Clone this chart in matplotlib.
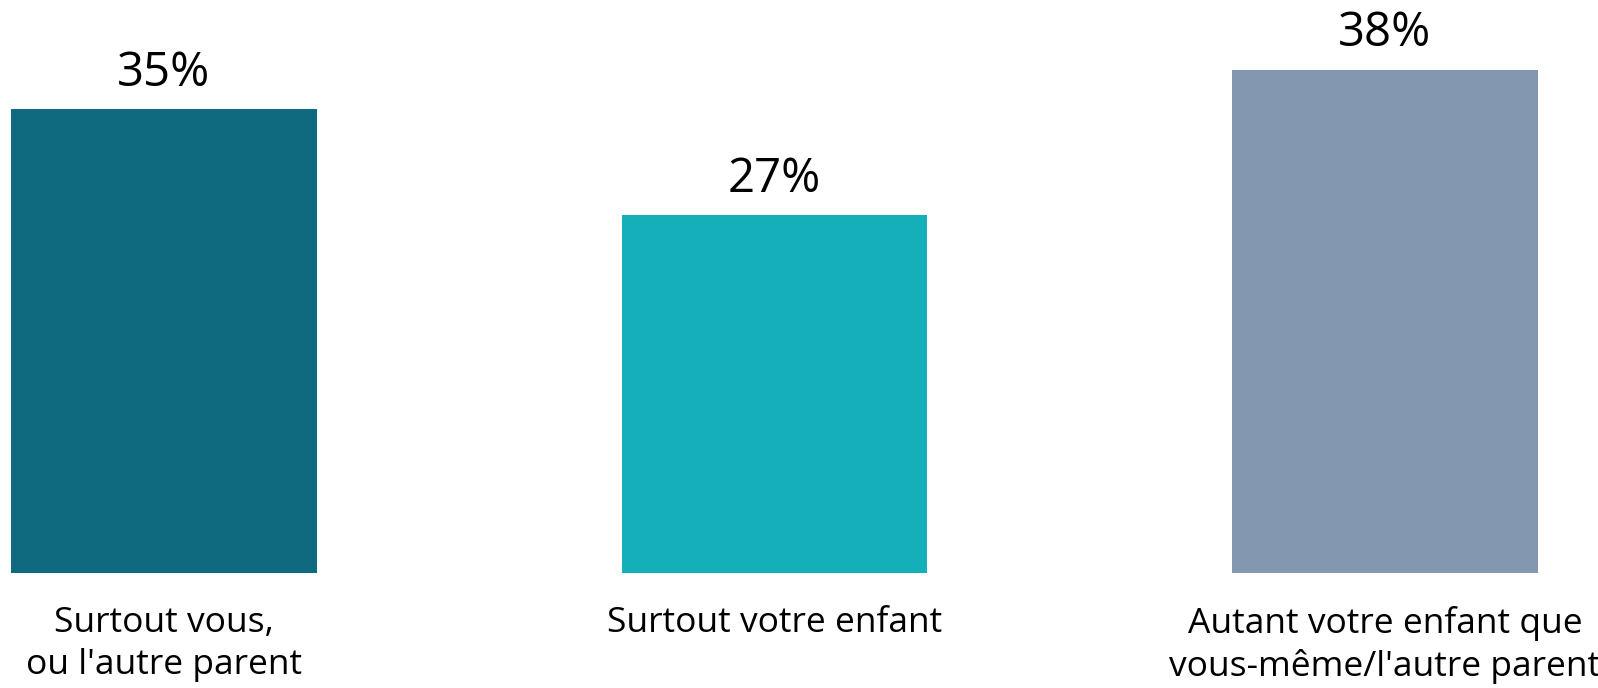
import matplotlib
matplotlib.use("Agg")
import matplotlib.pyplot as plt

plt.rcParams['font.family'] = ['Open Sans', 'DejaVu Sans']

categories = ["Surtout vous,\nou l'autre parent",
              "Surtout votre enfant",
              "Autant votre enfant que\nvous-même/l'autre parent"]
values = [35, 27, 38]
colors = ['#0F6A80', '#14AFB8', '#8497B0']

fig = plt.figure(figsize=(15.98, 6.88), dpi=100)
ax = fig.add_axes([0, 0.1676, 1, 0.8324])

x = range(len(values))
bars = ax.bar(x, values, width=0.5, color=colors)

for b, v in zip(bars, values):
    ax.annotate(f"{v}%", (b.get_x() + b.get_width() / 2, v),
                xytext=(0, 9), textcoords='offset points',
                ha='center', va='bottom', fontsize=34, color='black')

ax.set_xticks(list(x))
ax.set_xticklabels(categories, fontsize=25.5, linespacing=1.3)
ax.tick_params(axis='x', length=0, pad=24)
ax.set_yticks([])
ax.set_xlim(-0.2686, 2.349)
ax.set_ylim(0, 43.26)
for s in ax.spines.values():
    s.set_visible(False)

fig.savefig('out.png', dpi=100)
